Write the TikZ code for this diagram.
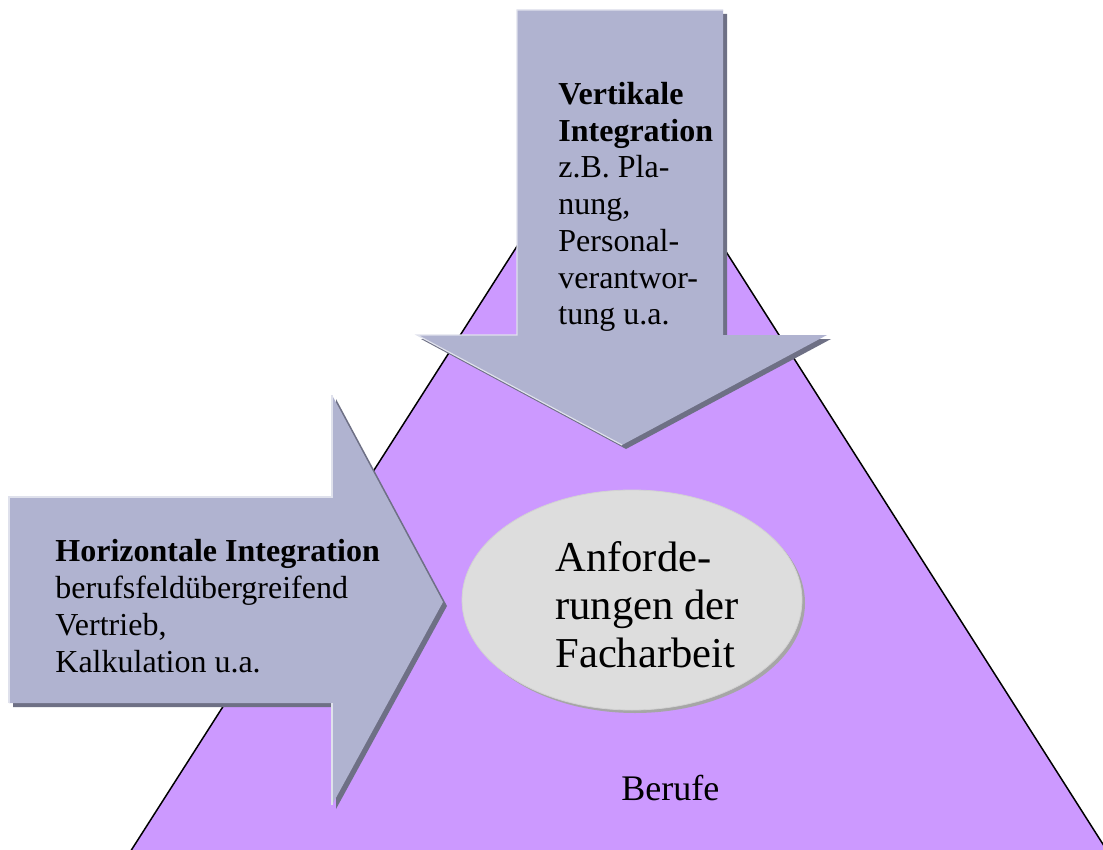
\documentclass[tikz,border=0pt]{standalone}
\usepackage{fontspec}
\setmainfont{Liberation Serif}
\usetikzlibrary{shapes.geometric}
\definecolor{lila}{HTML}{CC99FF}
\definecolor{pfeil}{HTML}{B0B3D0}
\definecolor{pfeilschatten}{HTML}{6E7085}
\definecolor{oval}{HTML}{DDDDDD}
\begin{document}
\begin{tikzpicture}[x=0.5pt,y=-0.5pt,
	pfeiltext/.style={anchor=base west,inner sep=0pt,align=left,font=\fontsize{16}{18.4}\selectfont},
	schatten/.style={fill=pfeilschatten,shift={(4,4)}},
	licht/.style={draw=pfeil!40!white,line width=0.6pt}]

	\clip (0,0) rectangle (1103,850);
	\fill[white] (0,0) rectangle (1103,850);

	% Dreieck
	\coordinate (spitze) at (620,85);
	\coordinate (links) at (125,860);
	\coordinate (rechts) at (1113,860);
	\draw[fill=lila,line width=0.75pt] (spitze) -- (links) -- (rechts) -- cycle;

	% senkrechter Pfeil
	\fill[schatten] (517,10) -- (723,10) -- (723,335) -- (827,335) -- (622,445) -- (417,335) -- (517,335) -- cycle;
	\fill[pfeil] (517,10) -- (723,10) -- (723,335) -- (827,335) -- (622,445) -- (417,335) -- (517,335) -- cycle;
	\draw[licht] (622,445) -- (417,335) -- (517,335) -- (517,10) -- (723,10);

	% waagerechter Pfeil
	\fill[schatten] (9,497) -- (332,497) -- (332,395) -- (443,602) -- (332,805) -- (332,703) -- (9,703) -- cycle;
	\fill[pfeil] (9,497) -- (332,497) -- (332,395) -- (443,602) -- (332,805) -- (332,703) -- (9,703) -- cycle;
	\draw[licht] (332,805) -- (332,703);
	\draw[licht] (9,703) -- (9,497) -- (332,497) -- (332,395);

	% Ellipse
	\fill[gray!70,shift={(3,3)}] (632,600) ellipse (170 and 110);
	\node(kern)[ellipse,fill=oval,draw=gray!35,minimum width=170pt,minimum height=110pt,inner sep=0pt] at (632,600) {};

	\node(vtext)[pfeiltext] at (558,325) {\textbf{Vertikale}\\\textbf{Integration}\\z.B. Pla-\\nung,\\Personal-\\verantwor-\\tung u.a.};
	\node(htext)[pfeiltext] at (55,672) {\textbf{Horizontale Integration}\\berufsfeldübergreifend\\Vertrieb,\\Kalkulation u.a.};
	\node(ktext)[pfeiltext,font=\fontsize{21.3}{24}\selectfont] at (555,667) {Anforde-\\rungen der\\Facharbeit};
	\node(berufe)[pfeiltext,font=\fontsize{18}{20}\selectfont] at (621,800) {Berufe};

\end{tikzpicture}
\end{document}
